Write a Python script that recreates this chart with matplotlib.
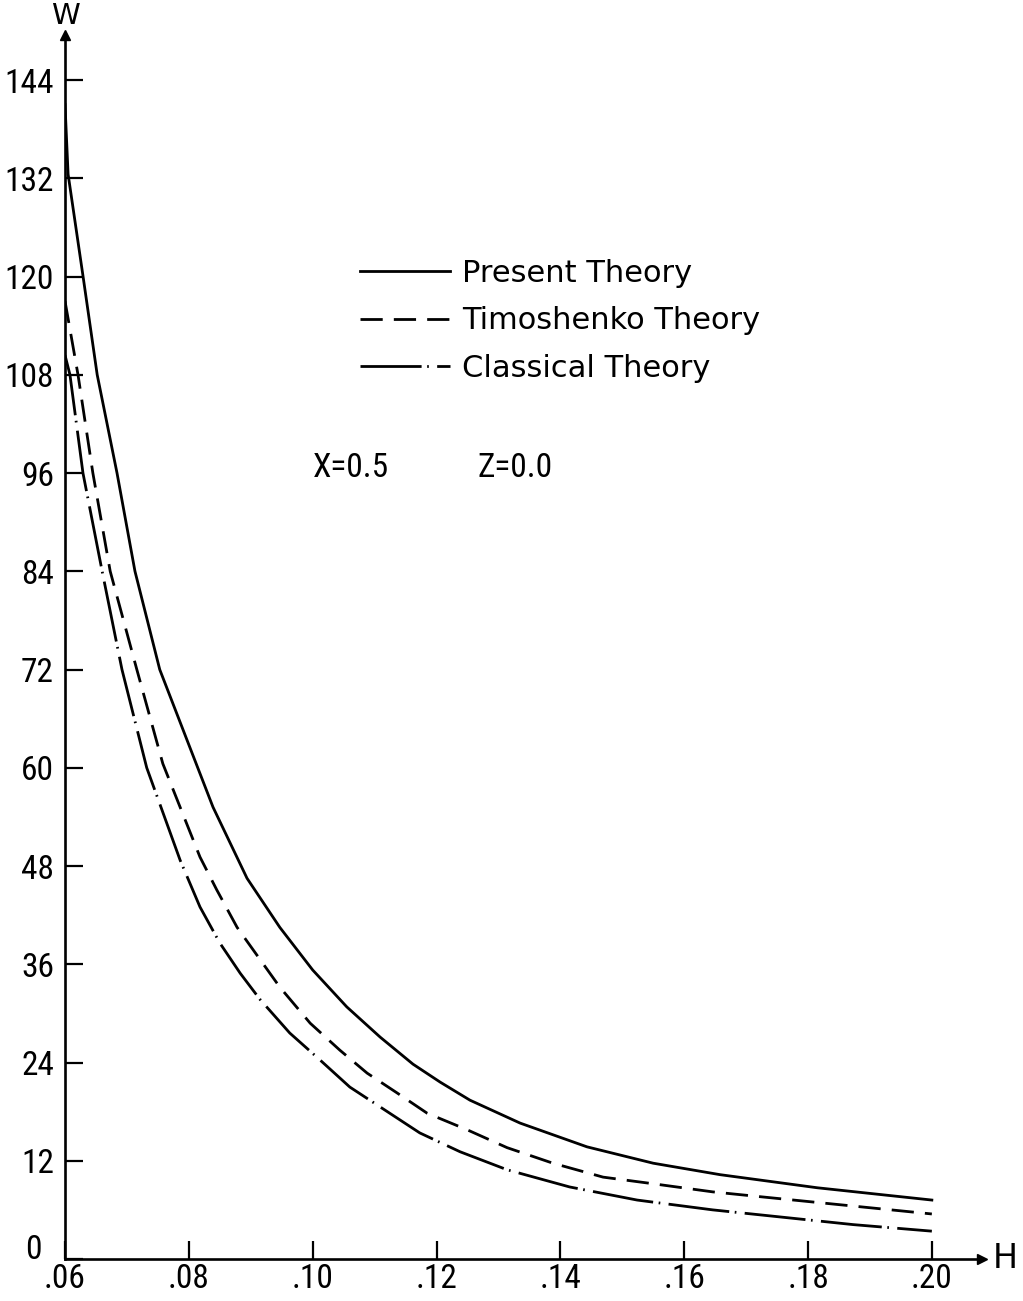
import numpy as np
import matplotlib
matplotlib.use("Agg")
import matplotlib.pyplot as plt
import matplotlib.transforms as mtransforms
from matplotlib import font_manager

# values (H, W)
h_present = [0.060, 0.0605, 0.0629, 0.0652, 0.0684, 0.0713, 0.0753, 0.0797, 0.0839, 0.0894,
             0.0947, 0.1000, 0.1055, 0.1109, 0.1162, 0.1206, 0.1254, 0.1335, 0.1443, 0.1550,
             0.1658, 0.1815, 0.200]
w_present = [141.0, 132.5, 120.1, 108.0, 96.0, 84.0, 72.0, 63.4, 55.2, 46.5,
             40.5, 35.3, 30.8, 27.1, 23.8, 21.6, 19.4, 16.6, 13.7, 11.7,
             10.3, 8.7, 7.2]

h_timo = [0.060, 0.0621, 0.0645, 0.0673, 0.0716, 0.0758, 0.0789, 0.0818, 0.0845, 0.0878,
          0.0912, 0.0947, 0.0996, 0.1044, 0.1088, 0.1136, 0.1185, 0.1249, 0.1314, 0.1388,
          0.1469, 0.1549, 0.1646, 0.1724, 0.200]
w_timo = [117.0, 108.0, 96.0, 84.0, 72.0, 60.5, 54.6, 49.1, 45.1, 40.5,
          36.9, 33.2, 28.8, 25.5, 22.7, 20.3, 17.8, 15.8, 13.6, 11.7,
          10.0, 9.2, 8.2, 7.6, 5.5]

h_class = [0.060, 0.0608, 0.0629, 0.0660, 0.0692, 0.0732, 0.0786, 0.0818, 0.0850, 0.0883,
           0.0915, 0.0963, 0.1012, 0.1060, 0.1173, 0.1238, 0.1314, 0.1415, 0.1524, 0.1646,
           0.1873, 0.200]
w_class = [110.4, 108.0, 96.0, 84.0, 72.0, 60.0, 48.7, 43.0, 38.6, 34.9,
           31.7, 27.6, 24.3, 21.0, 15.4, 13.1, 10.9, 8.8, 7.2, 6.0,
           4.2, 3.4]

x_ticks = [0.06, 0.08, 0.10, 0.12, 0.14, 0.16, 0.18, 0.20]
x_labels = [".06", ".08", ".10", ".12", ".14", ".16", ".18", ".20"]
y_ticks = [0, 12, 24, 36, 48, 60, 72, 84, 96, 108, 120, 132, 144]

# condensed face for the numbers if the system has one
names = {f.name for f in font_manager.fontManager.ttflist}
cond = None
for n in ["DejaVu Sans Condensed", "Liberation Sans Narrow", "Roboto Condensed",
          "Open Sans Condensed"]:
    if n in names:
        cond = n
        break
stretchy = [f for f in font_manager.fontManager.ttflist
            if f.name == "DejaVu Sans" and f.stretch == "condensed"]
if cond is not None:
    num_font = dict(fontfamily=[cond, "DejaVu Sans"], fontsize=24)
elif stretchy:
    num_font = dict(fontfamily="DejaVu Sans", fontstretch="condensed", fontsize=24)
else:
    num_font = dict(fontfamily="DejaVu Sans", fontsize=20)

fig = plt.figure(figsize=(10.23, 13.01), dpi=100)
ax = fig.add_axes([65 / 1023, 42 / 1301, 917 / 1023, 1224 / 1301])
ax.set_xlim(0.06, 0.2081)
ax.set_ylim(0, 149.5)

lw = 2.0
l1, = ax.plot(h_present, w_present, color="black", lw=lw, label="Present Theory")
l2, = ax.plot(h_timo, w_timo, color="black", lw=lw, linestyle=(0, (8, 4)),
              label="Timoshenko Theory")
l3, = ax.plot(h_class, w_class, color="black", lw=lw, linestyle=(0, (22, 2, 0.6, 3)),
              label="Classical Theory")

for s in ["top", "right"]:
    ax.spines[s].set_visible(False)
for s in ["left", "bottom"]:
    ax.spines[s].set_linewidth(1.9)

ax.set_xticks(x_ticks)
ax.set_xticklabels(x_labels, **num_font)
ax.set_yticks(y_ticks)
ax.set_yticklabels([str(v) for v in y_ticks], **num_font)
ax.tick_params(axis="both", direction="in", length=13, width=1.6)
ax.tick_params(axis="x", pad=3)
ax.tick_params(axis="y", pad=8)
zero = ax.get_yticklabels()[0]
zero.set_verticalalignment("baseline")
zero.set_transform(zero.get_transform() +
                   mtransforms.ScaledTranslation(-0.12, 0, fig.dpi_scale_trans))

# axis arrows
ax.plot(1, 0, marker=">", color="black", ms=7, transform=ax.transAxes, clip_on=False)
ax.plot(0, 1, marker="^", color="black", ms=7, transform=ax.transAxes, clip_on=False)
ax.text(0, 1.004, "W", transform=ax.transAxes, ha="center", va="bottom",
        fontfamily="DejaVu Sans", fontsize=21)
ax.text(1.012, 0, "H", transform=ax.transAxes, ha="left", va="center",
        fontfamily="DejaVu Sans", fontsize=24)

leg = ax.legend(handles=[l1, l2, l3], loc="upper left",
                bbox_to_anchor=(360 / 1023, 1 - 259 / 1301),
                bbox_transform=fig.transFigure, frameon=False,
                fontsize=22, handlelength=2.95, handletextpad=0.4,
                labelspacing=0.6, borderpad=0, borderaxespad=0)

ax.text(0.1000, 96.6, "X=0.5", va="center", **num_font)
ax.text(0.1267, 96.6, "Z=0.0", va="center", **num_font)

fig.savefig("out.png", dpi=100)
